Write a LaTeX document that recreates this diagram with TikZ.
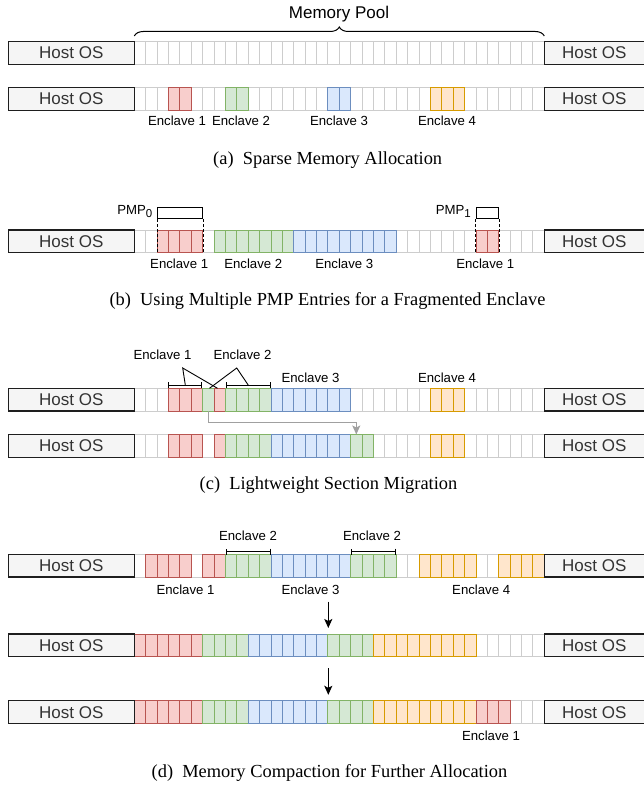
\documentclass[tikz,border=0pt]{standalone}
\usepackage{fontspec}
\newfontfamily\labelfont{Liberation Sans}
\newfontfamily\capfont{Liberation Serif}
\usetikzlibrary{arrows.meta,decorations.pathreplacing,calc}

\definecolor{redfill}{HTML}{F8CECC}\definecolor{redline}{HTML}{B85450}
\definecolor{greenfill}{HTML}{D5E8D4}\definecolor{greenline}{HTML}{82B366}
\definecolor{bluefill}{HTML}{DAE8FC}\definecolor{blueline}{HTML}{6C8EBF}
\definecolor{orangefill}{HTML}{FFE6CC}\definecolor{orangeline}{HTML}{D79B00}
\definecolor{hostfill}{HTML}{F5F5F5}\definecolor{hostline}{HTML}{1E1E1E}
\definecolor{hosttext}{HTML}{333333}\definecolor{emptyline}{HTML}{CDCDCD}
\definecolor{migline}{HTML}{A0A0A0}

% cell geometry: 36 cells between the two host regions
\newcommand\cellw{11.3889}
\newcommand\rowh{22.7}
\newcommand\poolx{134.3}

\tikzset{
  hostbox/.style={draw=hostline, fill=hostfill, line width=1.2pt, inner sep=0pt, outer sep=0pt,
    minimum height=\rowh pt, text=hosttext, font=\labelfont\fontsize{17}{20}\selectfont},
  emptycell/.style={draw=emptyline, fill=white, line width=0.9pt},
  cell r/.style={draw=redline, fill=redfill, line width=0.9pt},
  cell g/.style={draw=greenline, fill=greenfill, line width=0.9pt},
  cell b/.style={draw=blueline, fill=bluefill, line width=0.9pt},
  cell o/.style={draw=orangeline, fill=orangefill, line width=0.9pt},
  lbl/.style={inner sep=0pt, font=\labelfont\fontsize{13.2}{15}\selectfont},
  captext/.style={inner sep=0pt, font=\capfont\fontsize{18.4}{21}\selectfont},
  bracket/.style={line width=0.9pt, {Bar[width=6pt]}-{Bar[width=6pt]}},
  pmpbox/.style={draw, line width=1pt},
  pmpedge/.style={line width=0.9pt, dash pattern=on 3pt off 2pt},
  leader/.style={line width=0.9pt},
  step arrow/.style={line width=1.1pt, -{Stealth[length=9pt,width=8pt,inset=2pt]}},
  mig arrow/.style={draw=migline, line width=1.2pt, -{Stealth[length=9pt,width=8pt,inset=2pt]}},
}

% 36 empty cells of a memory row
\newcommand\cellrow[1]{%
  \foreach \i in {0,...,35}
    \path[emptycell] ({\poolx+\i*\cellw},#1) rectangle +(\cellw,\rowh);
}
% coloured cells: list of first/last/colour
\newcommand\fillcells[2]{%
  \foreach \a/\b/\c in {#2}
    \foreach \i in {\a,...,\b}
      \path[cell \c] ({\poolx+\i*\cellw},#1) rectangle +(\cellw,\rowh);
}
% host OS regions at both ends of a row
\newcommand\hostends[2]{%
  \node[hostbox, anchor=north west, minimum width=126pt] (#1-l) at (8.3,#2) {Host OS};
  \node[hostbox, anchor=north west, minimum width=100pt] (#1-r) at (544.3,#2) {Host OS};
}

\begin{document}
\begin{tikzpicture}[x=1pt,y=-1pt]
\useasboundingbox (0,0) rectangle (643,786);

% ---------- (a) sparse allocation ----------
\node[lbl, font=\labelfont\fontsize{17}{20}\selectfont] (pool) at (339,14) {Memory Pool};
\draw[line width=1pt, decorate, decoration={brace, amplitude=9pt}]
  (134.3,36) -- (544.3,36);
\cellrow{41.7}
\hostends{a1}{41.7}
\cellrow{87.5}
\fillcells{87.5}{3/4/r, 8/9/g, 17/18/b, 26/28/o}
\hostends{a2}{87.5}
\node[lbl] (a-e1) at (177,121) {Enclave 1};
\node[lbl] (a-e2) at (241,121) {Enclave 2};
\node[lbl] (a-e3) at (339,121) {Enclave 3};
\node[lbl] (a-e4) at (447,121) {Enclave 4};
\node[captext] (cap-a) at (327.7,160) {(a)\enspace Sparse Memory Allocation};

% ---------- (b) multiple PMP entries ----------
\cellrow{230}
\fillcells{230}{2/5/r, 7/13/g, 14/22/b, 30/31/r}
\hostends{b1}{230}
\node[pmpbox, minimum width=45.3pt, minimum height=11.6pt, inner sep=0pt, anchor=north west] (pmp0) at (157,206.7) {};
\node[pmpbox, minimum width=22.6pt, minimum height=11.6pt, inner sep=0pt, anchor=north west] (pmp1) at (475.7,206.7) {};
\draw[pmpedge] (pmp0.south west) -- (pmp0.south west |- 0,252.7);
\draw[pmpedge] (pmp0.south east) -- (pmp0.south east |- 0,252.7);
\draw[pmpedge] (pmp1.south west) -- (pmp1.south west |- 0,252.7);
\draw[pmpedge] (pmp1.south east) -- (pmp1.south east |- 0,252.7);
\node[lbl, anchor=east] (pmp0-lbl) at (152.5,211.5) {PMP\raisebox{-3.5pt}{\fontsize{11.5}{12}\selectfont 0}};
\node[lbl, anchor=east] (pmp1-lbl) at (471,211.5) {PMP\raisebox{-3.5pt}{\fontsize{11.5}{12}\selectfont 1}};
\node[lbl] (b-e1) at (179.2,264) {Enclave 1};
\node[lbl] (b-e2) at (253.3,264) {Enclave 2};
\node[lbl] (b-e3) at (344.3,264) {Enclave 3};
\node[lbl] (b-e1b) at (485.3,264) {Enclave 1};
\node[captext] (cap-b) at (327.5,301) {(b)\enspace Using Multiple PMP Entries for a Fragmented Enclave};

% ---------- (c) section migration ----------
\cellrow{388.3}
\fillcells{388.3}{3/5/r, 6/6/g, 7/7/r, 8/11/g, 12/18/b, 26/28/o}
\hostends{c1}{388.3}
\cellrow{434.5}
\fillcells{434.5}{3/5/r, 7/7/r, 8/11/g, 12/18/b, 19/20/g, 26/28/o}
\hostends{c2}{434.5}
\node[lbl] (c-e1) at (162.5,355) {Enclave 1};
\node[lbl] (c-e2) at (242.5,355) {Enclave 2};
\node[lbl] (c-e3) at (310.5,378) {Enclave 3};
\node[lbl] (c-e4) at (447,378) {Enclave 4};
\draw[bracket] (168.3,385) coordinate (c-br1a) -- (202.3,385) coordinate (c-br1b);
\draw[bracket] (225.7,385) coordinate (c-br2a) -- (270.7,385) coordinate (c-br2b);
\coordinate (c-e1-foot) at (182.7,368);
\coordinate (c-e2-foot) at (236.7,368);
\coordinate (c-red7) at (217.5,388.3);
\coordinate (c-grn6) at (209.5,388.3);
\draw[leader] ($(c-br1a)!0.5!(c-br1b)$) -- (c-e1-foot) -- (c-red7);
\draw[leader] ($(c-br2a)!0.5!(c-br2b)$) -- (c-e2-foot) -- (c-grn6);
\coordinate (mig-src) at (208.3,411);
\coordinate (mig-dst) at (356.3,434.5);
\draw[mig arrow] (mig-src) -- (208.3,422.7) -| (mig-dst);
\node[captext] (cap-c) at (328.5,485) {(c)\enspace Lightweight Section Migration};

% ---------- (d) compaction ----------
\cellrow{554.3}
\fillcells{554.3}{1/4/r, 6/7/r, 8/11/g, 12/18/b, 19/22/g, 25/29/o, 32/35/o}
\hostends{d1}{554.3}
\draw[bracket] (225.7,551.7) -- (270.7,551.7);
\draw[bracket] (350.7,551.7) -- (396.3,551.7);
\node[lbl] (d-e2a) at (248,536) {Enclave 2};
\node[lbl] (d-e2b) at (372,536) {Enclave 2};
\node[lbl] (d-e1) at (185.5,590) {Enclave 1};
\node[lbl] (d-e3) at (310.5,590) {Enclave 3};
\node[lbl] (d-e4) at (481.2,590) {Enclave 4};
\cellrow{634}
\fillcells{634}{0/5/r, 6/9/g, 10/16/b, 17/20/g, 21/29/o}
\hostends{d2}{634}
\cellrow{700.8}
\fillcells{700.8}{0/5/r, 6/9/g, 10/16/b, 17/20/g, 21/29/o, 30/32/r}
\hostends{d3}{700.8}
\node[lbl] (d-e1b) at (491,736) {Enclave 1};
\coordinate (step1-top) at (328.3,601.7);
\coordinate (step1-tip) at (328.3,628);
\coordinate (step2-top) at (328.3,668);
\coordinate (step2-tip) at (328.3,694.8);
\draw[step arrow] (step1-top) -- (step1-tip);
\draw[step arrow] (step2-top) -- (step2-tip);
\node[captext] (cap-d) at (329.5,773) {(d)\enspace Memory Compaction for Further Allocation};
\end{tikzpicture}
\end{document}
